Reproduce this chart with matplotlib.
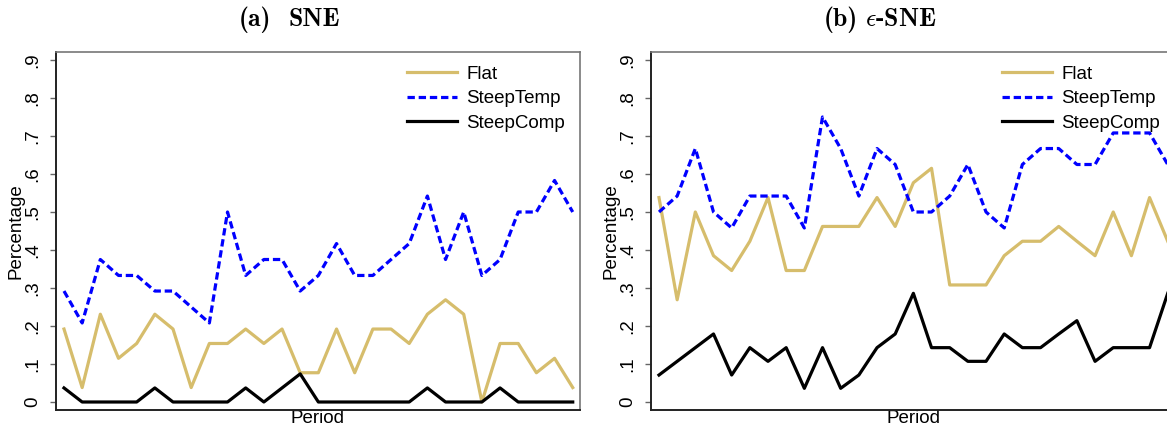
import numpy as np
import matplotlib
matplotlib.use("Agg")
import matplotlib.pyplot as plt

# period index (29 periods shown)
period = list(range(1, 30))

# (a) SNE
sne_flat = [.192, .038, .231, .115, .154, .231, .192, .038, .154, .154, .192, .154, .192, .077, .077,
            .192, .077, .192, .192, .154, .231, .269, .231, 0, .154, .154, .077, .115, .038]
sne_temp = [.292, .208, .375, .333, .333, .292, .292, .25, .208, .5, .333, .375, .375, .292, .333,
            .417, .333, .333, .375, .417, .542, .375, .5, .333, .375, .5, .5, .583, .5]
sne_comp = [.037, 0, 0, 0, 0, .037, 0, 0, 0, 0, .037, 0, .037, .074, 0,
            0, 0, 0, 0, 0, .037, 0, 0, 0, .037, 0, 0, 0, 0]

# (b) eps-SNE
esne_flat = [.538, .269, .5, .385, .346, .423, .538, .346, .346, .462, .462, .462, .538, .462, .577,
             .615, .308, .308, .308, .385, .423, .423, .462, .423, .385, .5, .385, .538, .423]
esne_temp = [.5, .542, .667, .5, .458, .542, .542, .542, .458, .75, .667, .542, .667, .625, .5,
             .5, .542, .625, .5, .458, .625, .667, .667, .625, .625, .708, .708, .708, .625]
esne_comp = [.071, .107, .143, .179, .071, .143, .107, .143, .036, .143, .036, .071, .143, .179, .286,
             .143, .143, .107, .107, .179, .143, .143, .179, .214, .107, .143, .143, .143, .286]

series_names = ["Flat", "SteepTemp", "SteepComp"]
yticks = [0, .1, .2, .3, .4, .5, .6, .7, .8, .9]
yticklabels = ["0", ".1", ".2", ".3", ".4", ".5", ".6", ".7", ".8", ".9"]

plt.rcParams['font.family'] = ['Liberation Sans', 'DejaVu Sans']
plt.rcParams['mathtext.fontset'] = 'cm'

W, H = 1167, 430
fig = plt.figure(figsize=(W / 100, H / 100), dpi=100)

gold = '#D6BD6C'
lw = 2.3


def panel(left_px, flat, temp, comp):
    ax = fig.add_axes([left_px / W, 20 / H, 524 / W, 358 / H])
    ax.plot(period, flat, color=gold, lw=lw, label=series_names[0])
    ax.plot(period, temp, color='#0000FF', lw=lw, dashes=(2.3, 1.2), label=series_names[1])
    ax.plot(period, comp, color='black', lw=lw, label=series_names[2])
    ax.set_xlim(0.56, 29.4)
    ax.set_ylim(-8 / 380, 0.9 + 8 / 380)
    ax.set_xticks([])
    ax.set_yticks(yticks)
    ax.set_yticklabels(yticklabels, rotation=90, va='center', fontsize=13.5)
    ax.tick_params(axis='y', length=4.5, width=1, color='#666666', pad=6)
    ax.set_xlabel("Period", fontsize=13.5, labelpad=0)
    ax.set_ylabel("Percentage", fontsize=13.5, labelpad=0)
    for s in ['left', 'bottom']:
        ax.spines[s].set_color('#222222')
        ax.spines[s].set_linewidth(1.4)
    for s in ['top', 'right']:
        ax.spines[s].set_color('#777777')
        ax.spines[s].set_linewidth(1.2)
    ax.legend(loc='upper left', bbox_to_anchor=(0.670, 0.962), frameon=False, fontsize=13.5,
              handlelength=2.65, handletextpad=0.5, labelspacing=0.39,
              borderpad=0, borderaxespad=0)
    return ax


panel(56, sne_flat, sne_temp, sne_comp)
panel(651, esne_flat, esne_temp, esne_comp)

# subfigure captions, bold computer modern
ty = 1 - 20 / H
fig.text(271 / W, ty, '(a)', family='cmb10', fontsize=18.5, ha='right', va='center')
fig.text(288 / W, ty, 'SNE', family='cmb10', fontsize=18.5, ha='left', va='center')
fig.text(858 / W, ty, '(b)', family='cmb10', fontsize=18.5, ha='right', va='center')
fig.text(865 / W, ty, r'$\epsilon$-SNE', family='cmb10', fontsize=18.5, ha='left', va='center')

fig.savefig("out.png", dpi=100)
